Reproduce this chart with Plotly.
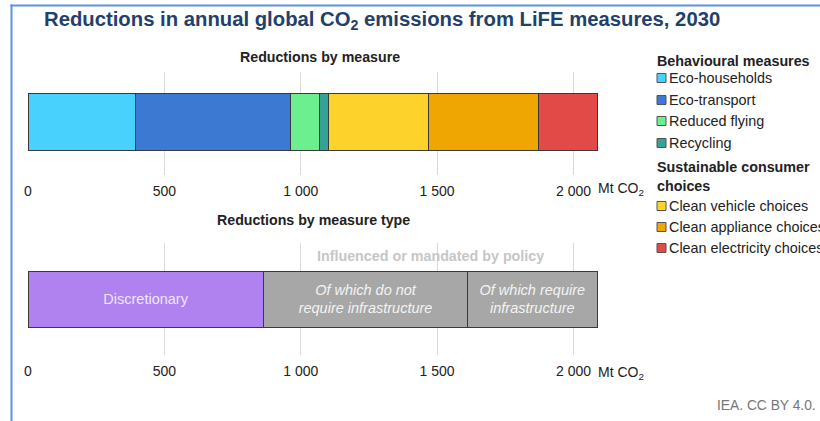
import plotly.graph_objects as go

# ---- data ----
measures = ["Eco-households", "Eco-transport", "Reduced flying", "Recycling",
            "Clean vehicle choices", "Clean appliance choices", "Clean electricity choices"]
measure_values = [393, 569, 107, 34, 364, 406, 215]
measure_colors = ["#48d1fc", "#3c79d3", "#6bef8f", "#37a196", "#fdd32b", "#efa602", "#e24a48"]

types = ["Discretionary", "Of which do not<br>require infrastructure", "Of which require<br>infrastructure"]
type_values = [865, 745, 478]
type_colors = ["#af82ef", "#a7a7a7", "#a7a7a7"]
type_italic = [False, True, True]

tick_vals = [0, 500, 1000, 1500, 2000]
tick_text = ["0", "500", "1 000", "1 500", "2 000"]

# ---- layout geometry (pixels) ----
W, H = 820, 421
L, R, T, B = 28, 206, 72, 66
PW = W - L - R
PH = H - T - B


def px2x(px):
    return (px - L) / PW


def py2y(py):
    return (H - B - py) / PH


top_dom = [py2y(175), 1.0]
bot_dom = [0.0, py2y(243)]
FONT = "Liberation Sans, Arial, sans-serif"

fig = go.Figure()

for name, val, col in zip(measures, measure_values, measure_colors):
    fig.add_trace(go.Bar(
        x=[val], y=[0], orientation="h", name=name, width=1.09,
        marker=dict(color=col, line=dict(color="#3a3a3a", width=1)),
        xaxis="x", yaxis="y", showlegend=False, hoverinfo="name+x"))

for name, val, col, it in zip(types, type_values, type_colors, type_italic):
    fig.add_trace(go.Bar(
        x=[val], y=[0], orientation="h", name=name.replace("<br>", " "), width=1.0,
        marker=dict(color=col, line=dict(color="#3a3a3a", width=1)),
        text=[("<i>%s</i>" % name) if it else name],
        textposition="inside", insidetextanchor="middle",
        textfont=dict(family=FONT, size=14.5,
                      color="#f3f3f3" if it else "#eee6fb"),
        constraintext="none",
        xaxis="x2", yaxis="y2", showlegend=False, hoverinfo="name+x"))

xcommon = dict(range=[0, 2148.5], tickvals=tick_vals, ticktext=tick_text,
               showgrid=True, gridcolor="#d9d9d9", gridwidth=1, zeroline=False,
               showline=False, ticks="outside", tickcolor="rgba(0,0,0,0)",
               tickfont=dict(family=FONT, size=14, color="#222222"))

fig.update_layout(
    barmode="stack",
    width=W, height=H,
    margin=dict(l=L, r=R, t=T, b=B),
    paper_bgcolor="white", plot_bgcolor="white",
    font=dict(family=FONT, size=13, color="#222222"),
    xaxis=dict(anchor="y", ticklen=3, **xcommon),
    xaxis2=dict(anchor="y2", ticklen=3, **xcommon),
    yaxis=dict(domain=top_dom, range=[-1.03, 0.97], visible=False, fixedrange=True),
    yaxis2=dict(domain=bot_dom, range=[-1, 1], visible=False, fixedrange=True),
    showlegend=False,
)

ann = []
# title
ann.append(dict(text="<b>Reductions in annual global CO<sub>2</sub> emissions from LiFE measures, 2030</b>",
                xref="paper", yref="paper", x=px2x(42), y=py2y(20), xanchor="left", yanchor="middle",
                showarrow=False, font=dict(family=FONT, size=20.3, color="#22406c")))
# subplot titles
ann.append(dict(text="<b>Reductions by measure</b>", xref="paper", yref="paper",
                x=px2x(320), y=py2y(57), xanchor="center", yanchor="middle", showarrow=False,
                font=dict(family=FONT, size=14.2, color="#222222")))
ann.append(dict(text="<b>Reductions by measure type</b>", xref="paper", yref="paper",
                x=px2x(313), y=py2y(220), xanchor="center", yanchor="middle", showarrow=False,
                font=dict(family=FONT, size=14.2, color="#222222")))
# policy label
ann.append(dict(text="<b>Influenced or mandated by policy</b>", xref="x2", yref="paper",
                x=type_values[0] + (type_values[1] + type_values[2]) / 2, y=py2y(256),
                xanchor="center", yanchor="middle", showarrow=False,
                font=dict(family=FONT, size=14.3, color="#c6c6c6")))
# units
for ypx in (189, 373):
    ann.append(dict(text="Mt CO<sub>2</sub>", xref="paper", yref="paper",
                    x=px2x(596), y=py2y(ypx), xanchor="left", yanchor="middle", showarrow=False,
                    font=dict(family=FONT, size=14, color="#222222")))
# source
ann.append(dict(text="IEA. CC BY 4.0.", xref="paper", yref="paper",
                x=px2x(715), y=py2y(405), xanchor="left", yanchor="middle", showarrow=False,
                font=dict(family=FONT, size=13.8, color="#777777")))

# manual legend
shapes = []
legend_rows = [(61, "title", "<b>Behavioural measures</b>"),
               (78, 0), (100, 1), (121, 2), (143, 3),
               (176, "title", "<b>Sustainable consumer<br>choices</b>"),
               (206, 4), (227, 5), (248, 6)]
for row in legend_rows:
    ypx = row[0]
    if row[1] == "title":
        ann.append(dict(text=row[2], xref="paper", yref="paper", x=px2x(655), y=py2y(ypx),
                        xanchor="left", yanchor="middle", align="left", showarrow=False,
                        font=dict(family=FONT, size=14.3, color="#222222")))
    else:
        i = row[1]
        shapes.append(dict(type="rect", xref="paper", yref="paper",
                           x0=px2x(657), x1=px2x(666), y0=py2y(ypx + 4.5), y1=py2y(ypx - 4.5),
                           fillcolor=measure_colors[i], line=dict(color="#555555", width=1)))
        ann.append(dict(text=measures[i], xref="paper", yref="paper", x=px2x(667), y=py2y(ypx),
                        xanchor="left", yanchor="middle", showarrow=False,
                        font=dict(family=FONT, size=14.4, color="#222222")))

# blue frame (left and top edges) as thin filled bands
shapes.append(dict(type="rect", xref="paper", yref="paper", x0=px2x(10.5), x1=px2x(12.5),
                   y0=py2y(421), y1=py2y(4.5), fillcolor="#5d95db", line=dict(width=0),
                   layer="above"))
shapes.append(dict(type="rect", xref="paper", yref="paper", x0=px2x(10.5), x1=px2x(820),
                   y0=py2y(6.5), y1=py2y(4.5), fillcolor="#5d95db", line=dict(width=0),
                   layer="above"))

fig.update_layout(annotations=ann, shapes=shapes)
fig.write_html("out.html", config={"displayModeBar": False},
               post_script="document.body.style.margin='0';")
